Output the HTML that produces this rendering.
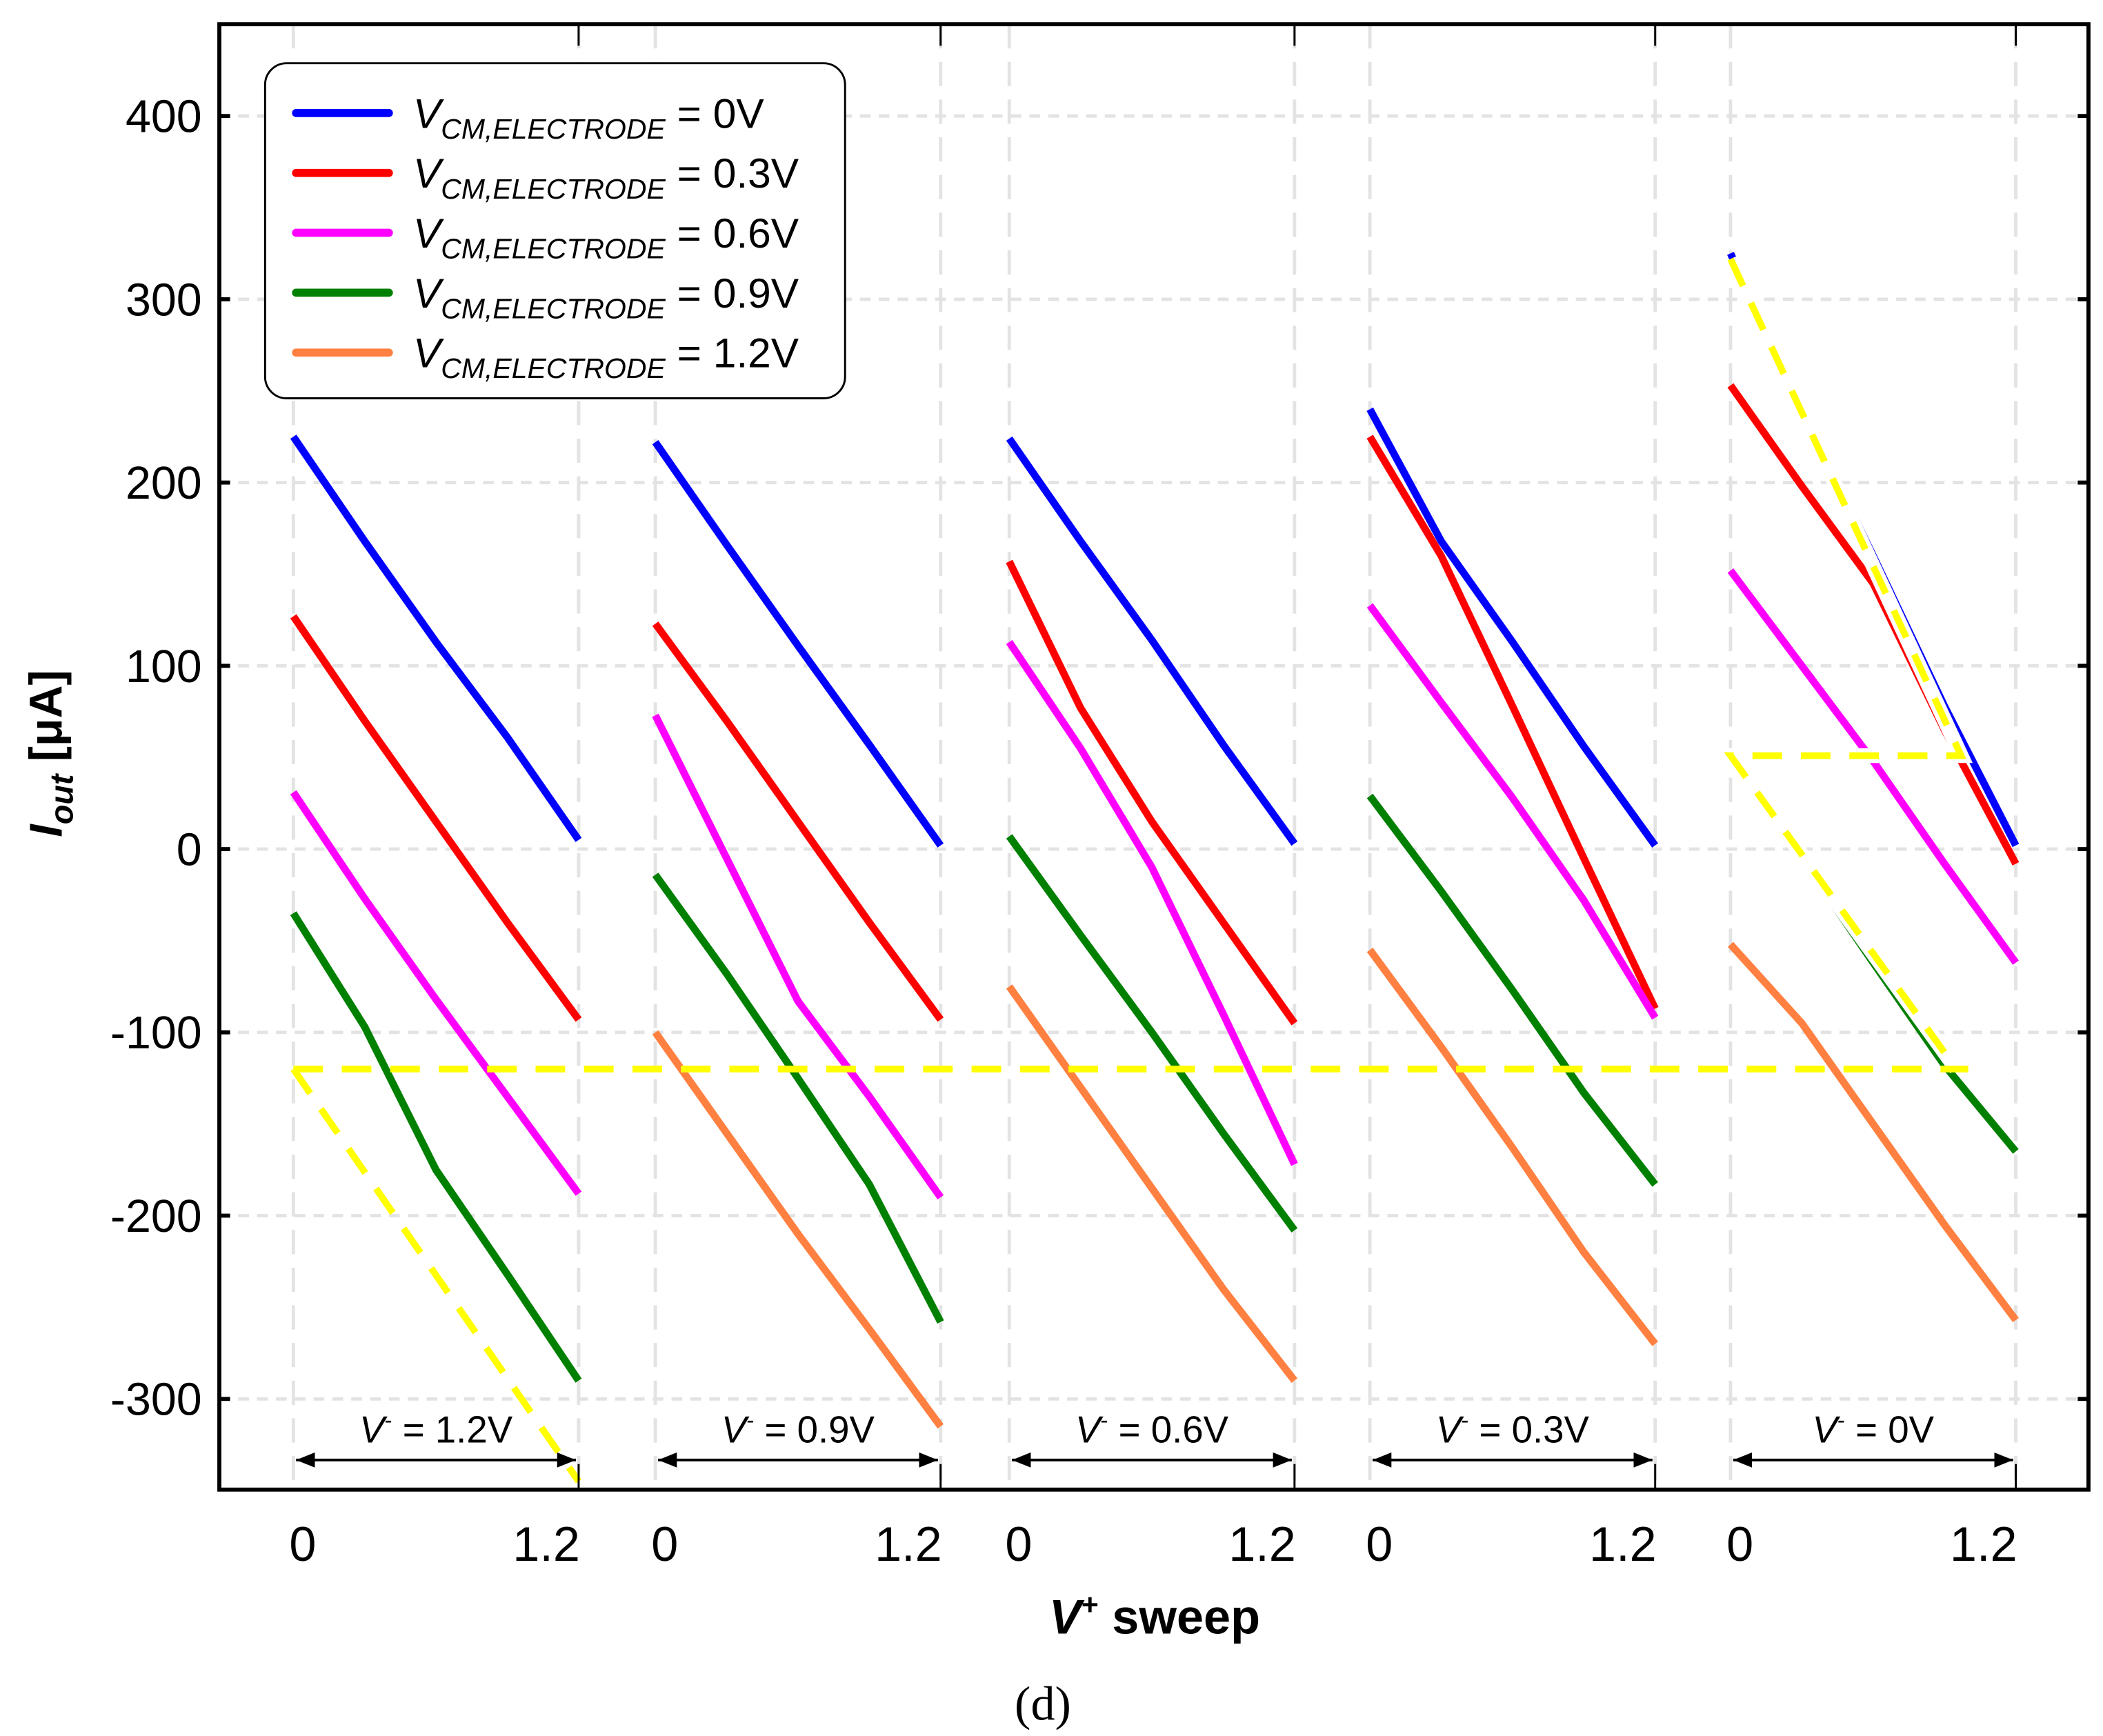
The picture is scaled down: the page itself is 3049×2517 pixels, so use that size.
<!DOCTYPE html>
<html><head><meta charset="utf-8"><style>
html,body{margin:0;padding:0;background:#fff}
svg{display:block}
text{font-family:"Liberation Sans",Arial,sans-serif}
</style></head><body>
<svg id="chart" xmlns="http://www.w3.org/2000/svg" width="3049" height="2517" viewBox="0 0 1562.8 1290.1">
<defs><clipPath id="plotclip"><rect x="163" y="18" width="1389" height="1089"/></clipPath>
<marker id="ah" viewBox="0 0 10 10" refX="10" refY="5" markerWidth="7" markerHeight="7" orient="auto-start-reverse"><path d="M0,1 L10,5 L0,9 z" fill="#000"/></marker></defs>
<g id="grid"></g>
<g id="series" clip-path="url(#plotclip)"></g>
<g id="guides" clip-path="url(#plotclip)"></g>
<g id="axes"></g>
<g id="legend">
<rect x="197" y="47" width="431" height="249" rx="16" fill="#fff" stroke="#000" stroke-width="1.5"/>
</g>
<text transform="translate(46,560) rotate(-90)" text-anchor="middle" font-size="34" font-weight="bold"><tspan font-style="italic">I</tspan><tspan font-style="italic" font-size="24" dy="8">out</tspan><tspan dy="-8">   [μA]</tspan></text>
<text x="858" y="1214" text-anchor="middle" font-size="36" font-weight="bold"><tspan font-style="italic">V</tspan><tspan font-size="22" dy="-14">+</tspan><tspan dy="14"> sweep</tspan></text>
<text x="775" y="1278" text-anchor="middle" font-size="36" style="font-family:'Liberation Serif',serif">(d)</text>
</svg>
<script>
const xVals=[0,0.3,0.6,0.9,1.2];
const panelLabels=["1.2V","0.9V","0.6V","0.3V","0V"];
const seriesNames=["0V","0.3V","0.6V","0.9V","1.2V"];
const seriesColors=["#0000ff","#ff0000","#ff00ff","#008000","#ff8040"];
const yTicks=[400,300,200,100,0,-100,-200,-300];
const blueVals=[[225,168,113,61,5],[222,166,111,57,2],[224,168,114,57,3],[240,168,113,56,2],[325,240,160,78,2]];
const redVals=[[127,70,15,-40,-93],[123,70,15,-40,-93],[157,77,15,-40,-95],[225,160,78,-5,-87],[253,198,145,65,-8]];
const magentaVals=[[31,-27,-82,-135,-188],[73,-5,-83,-135,-190],[113,55,-10,-90,-172],[133,80,28,-28,-92],[152,100,48,-8,-62]];
const greenVals=[[-35,-97,-175,-232,-290],[-14,-68,-125,-183,-258],[7,-47,-100,-155,-208],[29,-23,-77,-133,-183],[52,-5,-62,-118,-165]];
const orangeVals=[[-420,-440,-460,-400,-352],[-100,-155,-210,-262,-315],[-75,-130,-185,-240,-290],[-55,-108,-163,-220,-270],[-52,-95,-150,-205,-257]];
const guideHLevel=-120;
const guide1=[[0,-120],[1.2,-345]];
const guide5=[[0,322],[0.97,51],[0,51],[0.95,-120]];

const NS="http://www.w3.org/2000/svg";
const panelX0=[218,487,750,1018,1286], panelW=212;
function px(p,v){return panelX0[p]+v/1.2*panelW;}
function py(v){return 631-1.362*v;}
function mk(tag,attrs,parent){const e=document.createElementNS(NS,tag);for(const k in attrs)e.setAttribute(k,attrs[k]);parent.appendChild(e);return e;}
const grid=document.getElementById('grid'),series=document.getElementById('series'),axes=document.getElementById('axes'),guides=document.getElementById('guides'),legend=document.getElementById('legend');
yTicks.forEach(t=>{const l=mk('line',{x1:163,x2:1552,y1:py(t),y2:py(t),stroke:'#e3e3e3','stroke-width':2.5,'stroke-dasharray':'8,6'},grid);

});
for(let p=0;p<5;p++){[0,1.2].forEach(v=>{const l=mk('line',{x1:px(p,v),x2:px(p,v),y1:18,y2:1107,stroke:'#e3e3e3','stroke-width':2.5,'stroke-dasharray':'18,10'},grid);

});}
const all=[blueVals,redVals,magentaVals,greenVals,orangeVals];
all.forEach((arr,s)=>{arr.forEach((vals,p)=>{const d=vals.map((v,i)=>(i?'L':'M')+px(p,xVals[i]).toFixed(1)+','+py(v).toFixed(1)).join(' ');
const e=mk('path',{d:d,fill:'none',stroke:seriesColors[s],'stroke-width':5.5,'stroke-linejoin':'round'},series);

});});
const ys={fill:'none',stroke:'#ffff00','stroke-width':5,'stroke-dasharray':'22,14'};
const g5d=guide5.map((q,i)=>(i?'L':'M')+px(4,q[0])+','+py(q[1])).join(' ');
let g=mk('path',{d:g5d,fill:'none',stroke:'#fff','stroke-width':11},guides);


g=mk('line',Object.assign({x1:px(0,0),x2:px(4,1.0),y1:py(guideHLevel),y2:py(guideHLevel)},ys),guides);


g=mk('path',Object.assign({d:guide1.map((q,i)=>(i?'L':'M')+px(0,q[0])+','+py(q[1])).join(' ')},ys),guides);


g=mk('path',Object.assign({d:g5d},ys),guides);


let f=mk('rect',{x:163,y:18,width:1389,height:1089,fill:'none',stroke:'#000','stroke-width':3},axes);


yTicks.forEach(t=>{mk('line',{x1:163,x2:171,y1:py(t),y2:py(t),stroke:'#000','stroke-width':3},axes);
mk('line',{x1:1544,x2:1552,y1:py(t),y2:py(t),stroke:'#000','stroke-width':3},axes);
const tx=mk('text',{x:150,y:py(t)+12,'text-anchor':'end','font-size':34},axes);tx.textContent=t;

});
for(let p=0;p<5;p++){
 mk('line',{x1:px(p,1.2),x2:px(p,1.2),y1:1107,y2:1088,stroke:'#000','stroke-width':1.5},axes);
 mk('line',{x1:px(p,1.2),x2:px(p,1.2),y1:18,y2:34,stroke:'#000','stroke-width':1.5},axes);
 let t=mk('text',{x:px(p,0)+7,y:1160,'text-anchor':'middle','font-size':36},axes);t.textContent='0';
 
 
 t=mk('text',{x:px(p,1.2)-24,y:1160,'text-anchor':'middle','font-size':36},axes);t.textContent='1.2';
 
 
 const a=mk('line',{x1:px(p,0)+2,x2:px(p,1.2)-2,y1:1085,y2:1085,stroke:'#000','stroke-width':2,'marker-start':'url(#ah)','marker-end':'url(#ah)'},axes);
 
 
 const lt=mk('text',{x:px(p,0.6),y:1072,'text-anchor':'middle','font-size':28},axes);
 lt.innerHTML='<tspan font-style="italic">V</tspan><tspan font-size="17" dy="-11">-</tspan><tspan dy="11"> = '+panelLabels[p]+'</tspan>';
 
 
}
seriesNames.forEach((n,i)=>{const y=84+i*44.5;
 const l=mk('line',{x1:220,x2:289,y1:y,y2:y,stroke:seriesColors[i],'stroke-width':6,'stroke-linecap':'round'},legend);
 
 
 const t=mk('text',{x:307,y:y+11,'font-size':31},legend);
 t.innerHTML='<tspan font-style="italic">V</tspan><tspan font-style="italic" font-size="21" dy="8">CM,ELECTRODE</tspan><tspan dy="-8"> = '+n+'</tspan>';
 
 });
</script>
</body></html>
